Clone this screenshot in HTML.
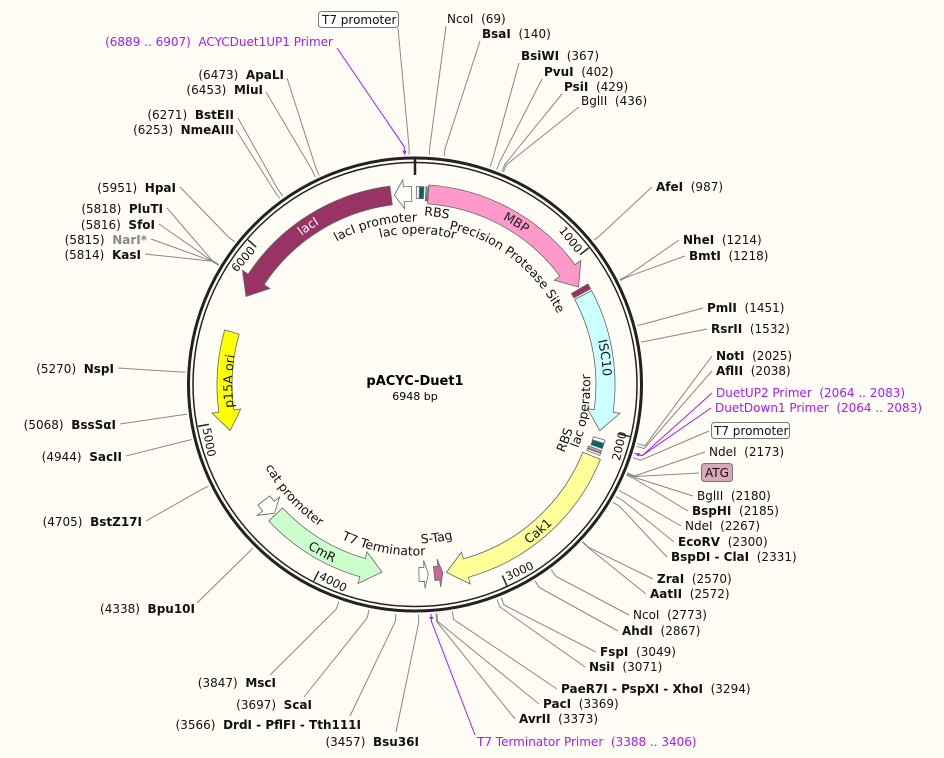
<!DOCTYPE html>
<html><head><meta charset="utf-8"><style>
html,body{margin:0;padding:0;background:#fffcf5;}
svg{display:block;font-family:"DejaVu Sans","Liberation Sans",sans-serif;font-size:12px;}
text{white-space:pre;}
.b{font-weight:bold;}
.p{fill:#a020f0;}
</style></head><body>
<svg id="s" width="944" height="758" viewBox="0 0 944 758" xmlns="http://www.w3.org/2000/svg">
<rect width="944" height="758" fill="#fffcf5"/>
<defs>
<path id="t1"/><path id="t2"/><path id="t3"/><path id="t4"/><path id="t5"/><path id="t6"/><path id="t7"/><path id="t8"/><path id="t9"/><path id="t10"/><path id="t11"/><path id="t12"/><path id="t13"/><path id="t14"/><path id="t15"/>
</defs>
<g id="lines" fill="none" stroke="#888" stroke-width="1"></g>
<g id="feat" stroke="#666" stroke-width="0.8"></g>
<circle cx="415" cy="384.5" r="226.5" fill="none" stroke="#222" stroke-width="3"/>
<circle cx="415" cy="384.5" r="222" fill="none" stroke="#222" stroke-width="1.5"/>
<line x1="415" y1="157" x2="415" y2="175" stroke="#222" stroke-width="2.5"/>
<g id="ticks" stroke="#222" stroke-width="1.5"></g>
<g id="ticklbl" font-size="11.5" fill="#111">
<text id="k1" text-anchor="end">1000</text>
<text id="k2" text-anchor="end">2000</text>
<text id="k3">3000</text>
<text id="k4">4000</text>
<text id="k5">5000</text>
<text id="k6" text-anchor="end">6000</text>
</g>

<g font-size="12.5" fill="#111">
<text fill="#fff"><textPath href="#t1" startOffset="50%" text-anchor="middle">lacI</textPath></text>
<text fill="#222"><textPath href="#t2" startOffset="50%" text-anchor="middle">MBP</textPath></text>
<text><textPath href="#t3" startOffset="50%" text-anchor="middle">lacI promoter</textPath></text>
<text><textPath href="#t4" startOffset="50%" text-anchor="middle">RBS</textPath></text>
<text><textPath href="#t5" startOffset="50%" text-anchor="middle">lac operator</textPath></text>
<text><textPath href="#t6" startOffset="50%" text-anchor="middle">Precision Protease Site</textPath></text>
<text><textPath href="#t7" startOffset="50%" text-anchor="middle">ISC10</textPath></text>
<text><textPath href="#t8" startOffset="50%" text-anchor="middle">lac operator</textPath></text>
<text><textPath href="#t9" startOffset="50%" text-anchor="middle">RBS</textPath></text>
<text><textPath href="#t10" startOffset="50%" text-anchor="middle">Cak1</textPath></text>
<text><textPath href="#t11" startOffset="50%" text-anchor="middle">S-Tag</textPath></text>
<text><textPath href="#t12" startOffset="50%" text-anchor="middle">T7 Terminator</textPath></text>
<text><textPath href="#t13" startOffset="50%" text-anchor="middle">CmR</textPath></text>
<text><textPath href="#t14" startOffset="50%" text-anchor="middle">cat promoter</textPath></text>
<text><textPath href="#t15" startOffset="50%" text-anchor="middle">p15A ori</textPath></text>
</g>

<text x="415" y="385" text-anchor="middle" class="b" font-size="13">pACYC-Duet1</text>
<text x="415" y="400" text-anchor="middle" font-size="11">6948 bp</text>

<g fill="#111">
<rect x="318.5" y="11.5" width="80" height="16" rx="3" fill="#fff" stroke="#777"/>
<text x="322" y="24">T7 promoter</text>
<text x="447" y="23">NcoI  (69)</text>
<text x="482" y="38"><tspan class="b">BsaI</tspan>  (140)</text>
<text x="521" y="60"><tspan class="b">BsiWI</tspan>  (367)</text>
<text x="544" y="76"><tspan class="b">PvuI</tspan>  (402)</text>
<text x="564" y="91"><tspan class="b">PsiI</tspan>  (429)</text>
<text x="581" y="105">BglII  (436)</text>
<text x="656" y="191"><tspan class="b">AfeI</tspan>  (987)</text>
<text x="683" y="244"><tspan class="b">NheI</tspan>  (1214)</text>
<text x="689" y="260"><tspan class="b">BmtI</tspan>  (1218)</text>
<text x="707" y="312"><tspan class="b">PmlI</tspan>  (1451)</text>
<text x="711" y="333"><tspan class="b">RsrII</tspan>  (1532)</text>
<text x="716" y="360"><tspan class="b">NotI</tspan>  (2025)</text>
<text x="716" y="375"><tspan class="b">AflII</tspan>  (2038)</text>
<text x="716" y="397" class="p">DuetUP2 Primer  (2064 .. 2083)</text>
<text x="715" y="412" class="p">DuetDown1 Primer  (2064 .. 2083)</text>
<rect x="711.5" y="422.5" width="78" height="16" rx="3" fill="#fff" stroke="#777"/>
<text x="714" y="435">T7 promoter</text>
<text x="709" y="456">NdeI  (2173)</text>
<rect x="701.5" y="463.5" width="31" height="18" rx="3" fill="#d8a8b8" stroke="#777"/>
<text x="705" y="477">ATG</text>
<text x="697" y="500">BglII  (2180)</text>
<text x="692" y="515"><tspan class="b">BspHI</tspan>  (2185)</text>
<text x="685" y="530">NdeI  (2267)</text>
<text x="678" y="546"><tspan class="b">EcoRV</tspan>  (2300)</text>
<text x="671" y="561"><tspan class="b">BspDI - ClaI</tspan>  (2331)</text>
<text x="657" y="583"><tspan class="b">ZraI</tspan>  (2570)</text>
<text x="650" y="598"><tspan class="b">AatII</tspan>  (2572)</text>
<text x="633" y="619">NcoI  (2773)</text>
<text x="622" y="635"><tspan class="b">AhdI</tspan>  (2867)</text>
<text x="600" y="656"><tspan class="b">FspI</tspan>  (3049)</text>
<text x="589" y="671"><tspan class="b">NsiI</tspan>  (3071)</text>
<text x="561" y="693"><tspan class="b">PaeR7I - PspXI - XhoI</tspan>  (3294)</text>
<text x="543" y="708"><tspan class="b">PacI</tspan>  (3369)</text>
<text x="519" y="723"><tspan class="b">AvrII</tspan>  (3373)</text>
<text x="477" y="746" class="p">T7 Terminator Primer  (3388 .. 3406)</text>
<g text-anchor="end">
<text x="419" y="746">(3457)  <tspan class="b">Bsu36I</tspan></text>
<text x="361" y="729">(3566)  <tspan class="b">DrdI - PflFI - Tth111I</tspan></text>
<text x="312" y="709">(3697)  <tspan class="b">ScaI</tspan></text>
<text x="276" y="687">(3847)  <tspan class="b">MscI</tspan></text>
<text x="195" y="613">(4338)  <tspan class="b">Bpu10I</tspan></text>
<text x="142" y="526">(4705)  <tspan class="b">BstZ17I</tspan></text>
<text x="122" y="461">(4944)  <tspan class="b">SacII</tspan></text>
<text x="116" y="429">(5068)  <tspan class="b">BssSαI</tspan></text>
<text x="114" y="373">(5270)  <tspan class="b">NspI</tspan></text>
<text x="141" y="259">(5814)  <tspan class="b">KasI</tspan></text>
<text x="147" y="244">(5815)  <tspan class="b" fill="#888">NarI*</tspan></text>
<text x="155" y="229">(5816)  <tspan class="b">SfoI</tspan></text>
<text x="163" y="213">(5818)  <tspan class="b">PluTI</tspan></text>
<text x="176" y="192">(5951)  <tspan class="b">HpaI</tspan></text>
<text x="234" y="134">(6253)  <tspan class="b">NmeAIII</tspan></text>
<text x="234" y="119">(6271)  <tspan class="b">BstEII</tspan></text>
<text x="263" y="94">(6453)  <tspan class="b">MluI</tspan></text>
<text x="284" y="79">(6473)  <tspan class="b">ApaLI</tspan></text>
<text x="333" y="46" class="p">(6889 .. 6907)  ACYCDuet1UP1 Primer</text>
</g>
</g>
</svg>
<script>
(function(){
var NS="http://www.w3.org/2000/svg",CX=415,CY=384.5,N=6948;
function Pa(d,r){var a=d*Math.PI/180;return [CX+r*Math.sin(a),CY-r*Math.cos(a)];}
function Pb(bp,r){return Pa(bp/N*360,r);}
function f(p){return p[0].toFixed(1)+","+p[1].toFixed(1);}
function el(tag,attrs,parent){var e=document.createElementNS(NS,tag);for(var k in attrs)e.setAttribute(k,attrs[k]);parent.appendChild(e);return e;}
var lines=document.getElementById("lines"),feat=document.getElementById("feat");
var L=[[6920,398,28],[69,446,26],[140,480,41],[367,519,63],[402,542,79],[429,562,94],[436,579,107],
[987,652,187],[1214,679,240],[1218,685,256],[1451,703,308],[1532,707,329],[2025,712,356],[2038,712,371],
[2073,712,393,"#a020f0"],[2073,711,408,"#a020f0"],[2095,709,431],[2173,705,452],[2176,699,473],[2180,693,496],
[2185,688,511],[2267,681,526],[2300,674,542],[2331,667,557],[2570,653,579],[2572,646,594],[2773,629,615],
[2867,618,631],[3049,596,652],[3071,585,667],[3294,557,689],[3369,539,704],[3373,515,719],[3397,475,735,"#a020f0"],
[3457,396,732],[3566,350,716],[3697,304,697],[3847,270,675],[4338,197,603],[4705,146,521],[4944,126,456],
[5068,120,424],[5270,118,368],[5814,145,254],[5815,151,239],[5816,159,224],[5818,167,208],[5951,180,187],
[6253,236,130],[6271,238,118],[6453,266,92],[6473,287,78],[6898,337,48,"#a020f0"]];
L.forEach(function(l){var a=Pb(l[0],230),b=Pb(l[0],238);
el("polyline",{points:f(a)+" "+f(b)+" "+l[1]+","+l[2],stroke:l[3]||"#888"},lines);});
[[6898,233],[2073,234],[3397,234]].forEach(function(m){var a=Pb(m[0]-8,m[1]),b=Pb(m[0]+8,m[1]);
el("path",{d:"M"+f(a)+" A"+m[1]+","+m[1]+" 0 0 1 "+f(b),stroke:"#a020f0","stroke-width":2,fill:"none"},lines);});
function arrow(s,e,ri,ro,col,head){var dir=e>s?1:-1,hb=e-dir*head,rm=(ri+ro)/2,sw=dir>0?1:0;
var d="M"+f(Pa(s,ro))+" A"+ro+","+ro+" 0 0 "+sw+" "+f(Pa(hb,ro))+" L"+f(Pa(hb,ro+7))+" L"+f(Pa(e,rm))+" L"+f(Pa(hb,ri-7))+" L"+f(Pa(hb,ri))+" A"+ri+","+ri+" 0 0 "+(1-sw)+" "+f(Pa(s,ri))+" Z";
el("path",{d:d,fill:col},feat);}
function box(s,e,ri,ro,col){var d="M"+f(Pa(s,ro))+" A"+ro+","+ro+" 0 0 1 "+f(Pa(e,ro))+" L"+f(Pa(e,ri))+" A"+ri+","+ri+" 0 0 0 "+f(Pa(s,ri))+" Z";el("path",{d:d,fill:col},feat);}
arrow(352.8,297.5,181,200,"#993366",6);
arrow(359,353.8,183,198,"#ffffff",2.8);
arrow(4,59.2,181,200,"#ff99cc",6);
box(59.8,61.4,181,200,"#993366");
arrow(62,104,181,200,"#ccffff",6);
arrow(112,170.5,181,200,"#ffff99",6);
arrow(227,190,181,200,"#ccffcc",6);
arrow(232.5,227.5,183,198,"#ffffff",2.8);
arrow(286,256,183,198,"#ffff00",6);
box(0.4,1.3,186,198,"#ffffff");box(1.3,2.6,186,198,"#006666");
box(3.2,3.5,184,198,"#ffffff");box(3.6,3.9,184,198,"#ffffff");
box(106.3,107.3,186,198,"#ffffff");box(107.4,108.9,186,198,"#006666");
box(109.5,110.2,184,198,"#d4a0c0");box(110.4,111,184,198,"#ffffff");
arrow(174.2,171.6,183,197,"#cc6699",1.2);
arrow(178.8,176,183,197,"#ffffff",1.2);
var T=document.getElementById("ticks");
for(var i=1;i<=6;i++){var d=i*1000/N*360;el("line",{x1:Pa(d,221)[0],y1:Pa(d,221)[1],x2:Pa(d,210)[0],y2:Pa(d,210)[1]},T);
var k=document.getElementById("k"+i);
if(d>90&&d<270){k.setAttribute("x",CX+3);k.setAttribute("y",CY+217);k.setAttribute("transform","rotate("+(d-180)+","+CX+","+CY+")");}
else{k.setAttribute("x",CX-3);k.setAttribute("y",CY-208);k.setAttribute("transform","rotate("+d+","+CX+","+CY+")");}}
var TP=[[1,326,187,0],[2,32,187,0],[3,346,163,0],[4,7.3,169,0],[5,1,151,0],[6,38,159,0],[7,82,188,0],
[8,99,175,1],[9,110.3,164,1],[10,140,196,1],[11,172,159,1],[12,191,171,1],[13,209,196,1],[14,227.5,171,1],[15,271,183,0]];
TP.forEach(function(t){var p=document.getElementById("t"+t[0]),c=t[1],r=t[2],d;
if(!t[3])d="M"+f(Pa(c-80,r))+" A"+r+","+r+" 0 0 1 "+f(Pa(c+80,r));
else d="M"+f(Pa(c+80,r))+" A"+r+","+r+" 0 0 0 "+f(Pa(c-80,r));
p.setAttribute("d",d);});
})();
</script>
</body></html>
